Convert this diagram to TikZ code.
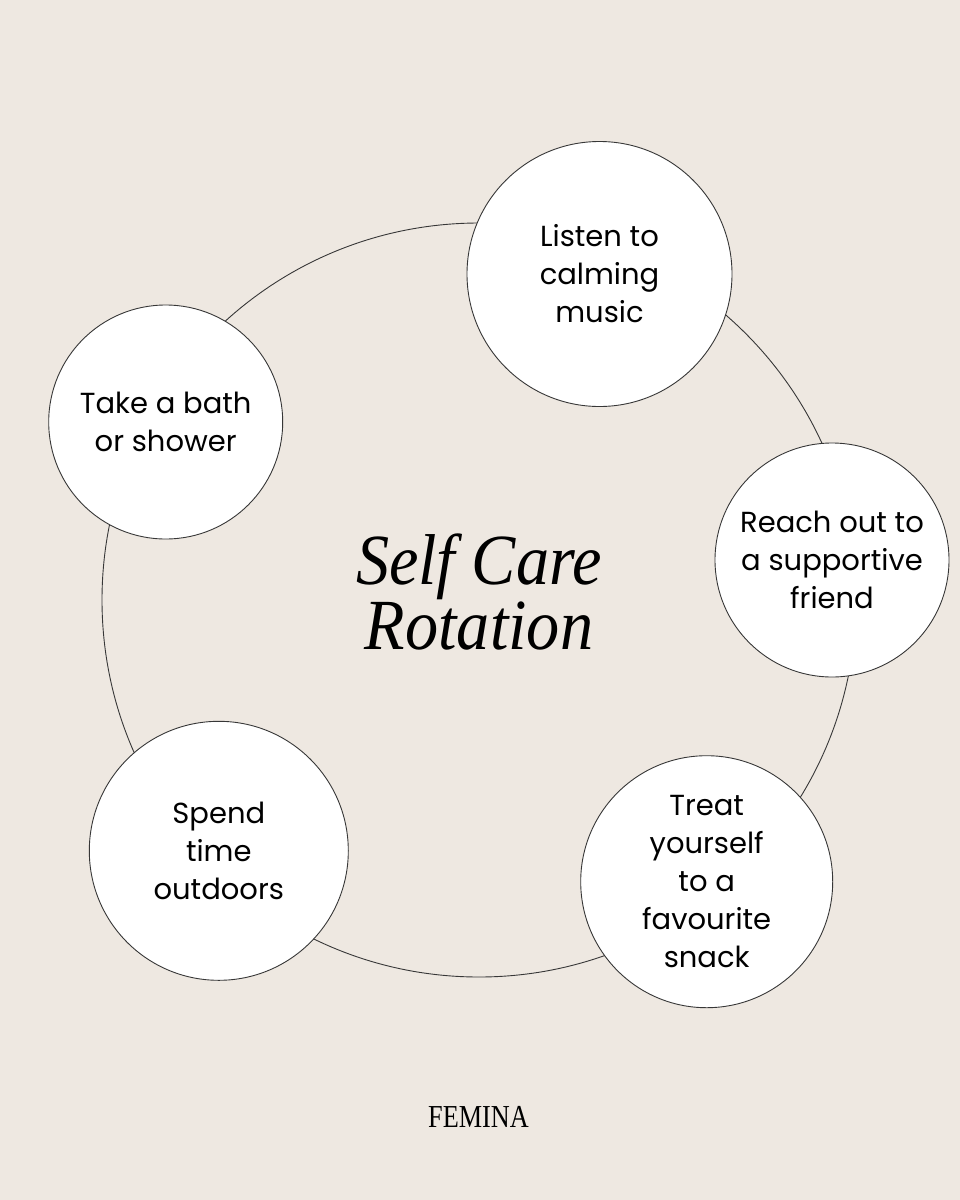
\documentclass[tikz,border=0pt]{standalone}
\usepackage{fontspec}
\setmainfont{Poppins}
\newfontfamily\titlefont{Liberation Serif}
\definecolor{bg}{RGB}{238,232,225}
\definecolor{ln}{RGB}{55,55,55}
\begin{document}
\begin{tikzpicture}[x=1pt,y=-1pt,
  ringline/.style={draw=ln, line width=0.9pt},
  item/.style={circle, ringline, fill=white, inner sep=0pt, align=center,
    font=\fontsize{29}{38}\selectfont, text=black},
  titletext/.style={align=center, inner sep=0pt, text=black,
    font=\titlefont\itshape\fontsize{72}{65}\selectfont},
  brand/.style={inner sep=0pt, text=black, font=\titlefont\fontsize{32}{32}\selectfont}
]
\fill[bg] (0,0) rectangle (960,1200);
\useasboundingbox (0,0) rectangle (960,1200);
\node[circle, ringline, minimum size=754pt, inner sep=0pt] (ring) at (479,600) {};
\node[item, minimum size=265pt] (music) at (599.5,274) {Listen to\\calming\\music};
\node[item, minimum size=234pt] (bath) at (165.7,422) {Take a bath\\or shower};
\node[item, minimum size=234pt] (friend) at (832,560) {Reach out to\\a supportive\\friend};
\node[item, minimum size=252pt] (snack) at (706.7,881.7) {Treat\\yourself\\to a\\favourite\\snack};
\node[item, minimum size=259pt] (outdoors) at (218.8,850.8) {Spend\\time\\outdoors};
\node[titletext] (title) at (479,592.5) {\scalebox{0.92}[1]{Self Care}\\\scalebox{0.92}[1]{Rotation}};
\node[brand] (femina) at (478.5,1116.7) {\scalebox{0.82}[1]{FEMINA}};
\end{tikzpicture}
\end{document}
